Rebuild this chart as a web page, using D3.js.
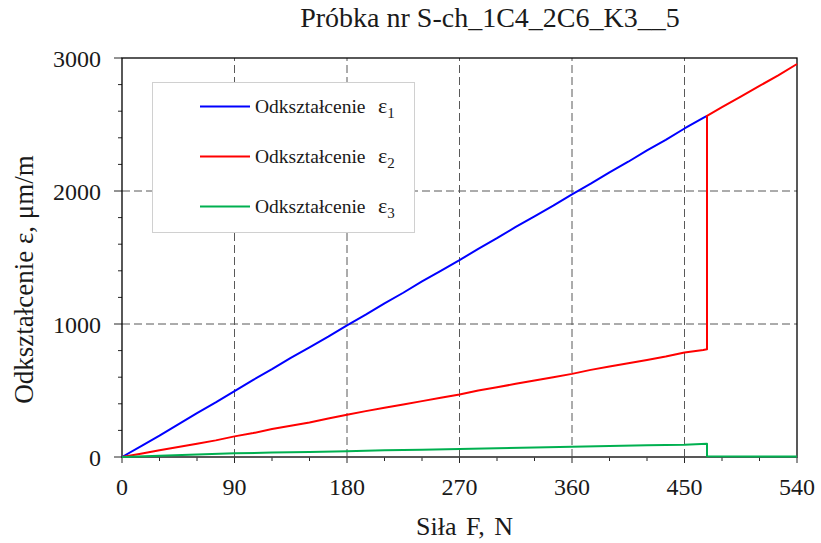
<!DOCTYPE html>
<html>
<head>
<meta charset="utf-8">
<script src="https://cdn.jsdelivr.net/npm/d3@7"></script>
<style>
  body { margin: 0; background: #fff; }
  text { font-family: "Liberation Serif", "Times New Roman", serif; fill: #1a1a1a; }
</style>
</head>
<body>
<script>
// force F [N] and strains [um/m]
const force1 = [0, 15, 30, 45, 60, 75, 90, 105, 120, 135, 150, 165, 180, 195, 210, 225, 240, 255, 270, 285, 300, 315, 330, 345, 360, 375, 390, 405, 420, 435, 450, 465, 468];
const eps1   = [0, 80, 160, 245, 330, 410, 495, 580, 660, 745, 825, 905, 990, 1070, 1155, 1235, 1320, 1400, 1480, 1565, 1645, 1730, 1810, 1890, 1975, 2055, 2140, 2220, 2305, 2385, 2470, 2550, 2565];

const force2 = [0, 15, 30, 45, 60, 75, 90, 105, 120, 135, 150, 165, 180, 195, 210, 225, 240, 255, 270, 285, 300, 315, 330, 345, 360, 375, 390, 405, 420, 435, 450, 465, 468, 468, 480, 495, 510, 525, 540];
const eps2   = [0, 25, 50, 75, 100, 125, 155, 180, 210, 235, 260, 290, 318, 345, 370, 395, 420, 445, 470, 500, 525, 550, 575, 600, 625, 655, 680, 705, 730, 755, 785, 805, 810, 2565, 2630, 2710, 2790, 2870, 2955];

const force3 = [0, 30, 60, 90, 120, 150, 180, 210, 240, 270, 300, 330, 360, 390, 420, 450, 468, 468, 540];
const eps3   = [0, 10, 18, 28, 33, 38, 43, 50, 55, 60, 66, 72, 78, 82, 88, 93, 100, 5, 3];

const xTicks = [0, 90, 180, 270, 360, 450, 540];
const yTicks = [0, 1000, 2000, 3000];
const seriesNames = ["1", "2", "3"];
const seriesColors = ["#0000ff", "#ff0000", "#00b050"];

const width = 821, height = 543;
const margin = {left: 122, right: 24, top: 58, bottom: 86};

const svg = d3.select("body").append("svg")
    .attr("width", width)
    .attr("height", height);

const x = d3.scaleLinear().domain([0, 540]).range([margin.left, width - margin.right]);
const y = d3.scaleLinear().domain([0, 3000]).range([height - margin.bottom, margin.top]);

// grid
svg.append("g")
    .selectAll("line")
    .data(xTicks.slice(1, -1))
    .join("line")
    .attr("x1", d => x(d)).attr("x2", d => x(d))
    .attr("y1", y(0)).attr("y2", y(3000))
    .attr("stroke", "#595959").attr("stroke-width", 1)
    .attr("stroke-dasharray", "8,4");
svg.append("g")
    .selectAll("line")
    .data(yTicks.slice(1, -1))
    .join("line")
    .attr("x1", x(0)).attr("x2", x(540))
    .attr("y1", d => y(d)).attr("y2", d => y(d))
    .attr("stroke", "#595959").attr("stroke-width", 1)
    .attr("stroke-dasharray", "8,4");

// minor ticks
svg.append("g")
    .selectAll("line")
    .data(d3.range(0, 541, 30))
    .join("line")
    .attr("x1", d => x(d)).attr("x2", d => x(d))
    .attr("y1", y(0)).attr("y2", d => y(0) + (d % 90 === 0 ? 6 : 4))
    .attr("stroke", "#262626");
svg.append("g")
    .selectAll("line")
    .data(d3.range(0, 3001, 200))
    .join("line")
    .attr("x1", d => x(0) - (d % 1000 === 0 ? 8 : 4)).attr("x2", x(0))
    .attr("y1", d => y(d)).attr("y2", d => y(d))
    .attr("stroke", "#262626");

// frame
svg.append("rect")
    .attr("x", x(0)).attr("y", y(3000))
    .attr("width", x(540) - x(0)).attr("height", y(0) - y(3000))
    .attr("fill", "none").attr("stroke", "#000").attr("stroke-width", 1.3);
svg.append("line")
    .attr("x1", x(0)).attr("x2", x(540))
    .attr("y1", y(0)).attr("y2", y(0))
    .attr("stroke", "#595959").attr("stroke-width", 1.3);

// tick labels
svg.append("g")
    .selectAll("text")
    .data(xTicks)
    .join("text")
    .attr("x", d => x(d)).attr("y", y(0) + 38)
    .attr("text-anchor", "middle")
    .attr("font-size", 24)
    .text(d => d);
svg.append("g")
    .selectAll("text")
    .data(yTicks)
    .join("text")
    .attr("x", x(0) - 21).attr("y", d => y(d) + 9)
    .attr("text-anchor", "end")
    .attr("font-size", 24)
    .text(d => d);

// data lines
const line = d3.line().x(d => x(d[0])).y(d => y(d[1]));
const series = [
    d3.zip(force1, eps1),
    d3.zip(force2, eps2),
    d3.zip(force3, eps3)
];
svg.append("g")
    .selectAll("path")
    .data(series)
    .join("path")
    .attr("d", line)
    .attr("fill", "none")
    .attr("stroke", (d, i) => seriesColors[i])
    .attr("stroke-width", 2)
    .attr("stroke-linejoin", "round");

// legend
const lg = svg.append("g");
lg.append("rect")
    .attr("x", 152.5).attr("y", 82.5)
    .attr("width", 262).attr("height", 150)
    .attr("fill", "#fff").attr("stroke", "#d0d0d0").attr("stroke-width", 1);
seriesNames.forEach((n, i) => {
    const ly = 106.5 + i * 50;
    lg.append("line")
        .attr("x1", 200).attr("x2", 250)
        .attr("y1", ly).attr("y2", ly)
        .attr("stroke", seriesColors[i]).attr("stroke-width", 2);
    const t = lg.append("text")
        .attr("x", 255).attr("y", ly + 6)
        .attr("font-size", 19.5);
    t.append("tspan").text("Odkształcenie");
    t.append("tspan").attr("x", 378).attr("font-size", 22).text("ε");
    t.append("tspan").attr("dy", 5).attr("font-size", 15).text(n);
});

// titles
svg.append("text")
    .attr("x", 490).attr("y", 27)
    .attr("text-anchor", "middle")
    .attr("font-size", 28)
    .text("Próbka nr S-ch_1C4_2C6_K3__5");

svg.append("text")
    .attr("x", 416).attr("y", 535)
    .attr("font-size", 26)
    .attr("word-spacing", 3)
    .text("Siła F, N");

svg.append("text")
    .attr("transform", "translate(33,279.5) rotate(-90)")
    .attr("text-anchor", "middle")
    .attr("font-size", 27)
    .text("Odkształcenie ε, μm/m");
</script>
</body>
</html>
